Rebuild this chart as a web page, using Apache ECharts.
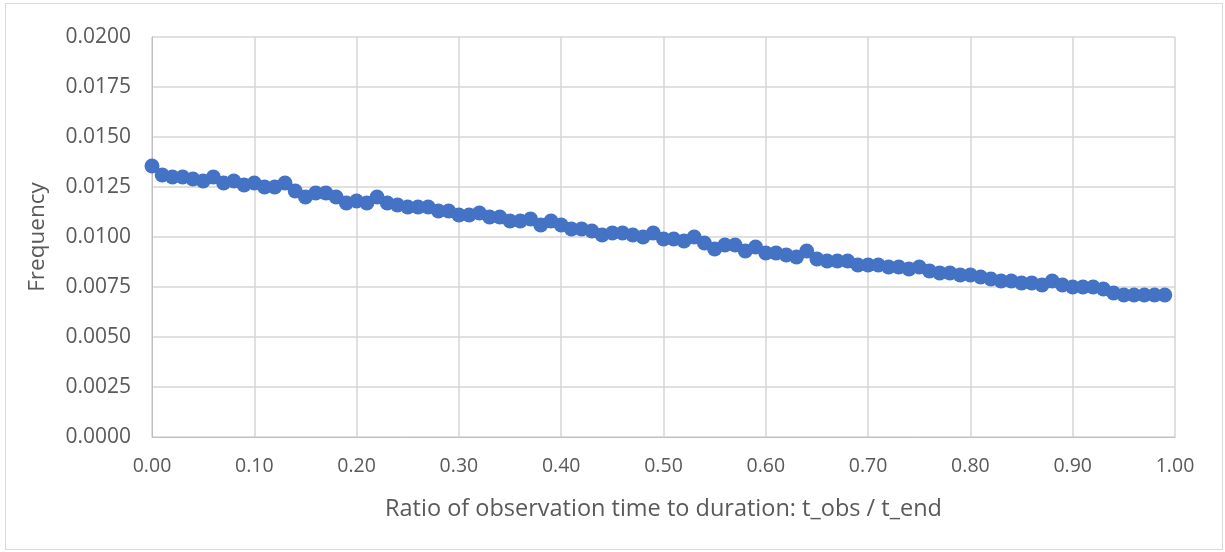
<!DOCTYPE html>
<html>
<head>
<meta charset="utf-8">
<script src="https://cdn.jsdelivr.net/npm/echarts@6/dist/echarts.min.js"></script>
<style>
  html, body { margin: 0; padding: 0; background: #fff; }
  #frame { position: absolute; left: 5px; top: 3px; width: 1218px; height: 547px; box-sizing: border-box; border: 1px solid #d9d9d9; }
  #chart { position: absolute; left: 0; top: 0; width: 1225px; height: 552px; }
</style>
</head>
<body>
<div id="frame"></div>
<div id="chart"></div>
<script>
// Observation ratio t_obs / t_end
const ratios = [
  0.00, 0.01, 0.02, 0.03, 0.04, 0.05, 0.06, 0.07, 0.08, 0.09,
  0.10, 0.11, 0.12, 0.13, 0.14, 0.15, 0.16, 0.17, 0.18, 0.19,
  0.20, 0.21, 0.22, 0.23, 0.24, 0.25, 0.26, 0.27, 0.28, 0.29,
  0.30, 0.31, 0.32, 0.33, 0.34, 0.35, 0.36, 0.37, 0.38, 0.39,
  0.40, 0.41, 0.42, 0.43, 0.44, 0.45, 0.46, 0.47, 0.48, 0.49,
  0.50, 0.51, 0.52, 0.53, 0.54, 0.55, 0.56, 0.57, 0.58, 0.59,
  0.60, 0.61, 0.62, 0.63, 0.64, 0.65, 0.66, 0.67, 0.68, 0.69,
  0.70, 0.71, 0.72, 0.73, 0.74, 0.75, 0.76, 0.77, 0.78, 0.79,
  0.80, 0.81, 0.82, 0.83, 0.84, 0.85, 0.86, 0.87, 0.88, 0.89,
  0.90, 0.91, 0.92, 0.93, 0.94, 0.95, 0.96, 0.97, 0.98, 0.99
];

// Frequency at each ratio
const frequency = [
  0.01355, 0.0131, 0.0130, 0.0130, 0.0129, 0.0128, 0.0130, 0.0127, 0.0128, 0.0126,
  0.0127, 0.0125, 0.0125, 0.0127, 0.0123, 0.0120, 0.0122, 0.0122, 0.0120, 0.0117,
  0.0118, 0.0117, 0.0120, 0.0117, 0.0116, 0.0115, 0.0115, 0.0115, 0.0113, 0.0113,
  0.0111, 0.0111, 0.0112, 0.0110, 0.0110, 0.0108, 0.0108, 0.0109, 0.0106, 0.0108,
  0.0106, 0.0104, 0.0104, 0.0103, 0.0101, 0.0102, 0.0102, 0.0101, 0.0100, 0.0102,
  0.0099, 0.0099, 0.0098, 0.0100, 0.0097, 0.0094, 0.0096, 0.0096, 0.0093, 0.0095,
  0.0092, 0.0092, 0.0091, 0.0090, 0.0093, 0.0089, 0.0088, 0.0088, 0.0088, 0.0086,
  0.0086, 0.0086, 0.0085, 0.0085, 0.0084, 0.0085, 0.0083, 0.0082, 0.0082, 0.0081,
  0.0081, 0.0080, 0.0079, 0.0078, 0.0078, 0.0077, 0.0077, 0.0076, 0.0078, 0.0076,
  0.0075, 0.0075, 0.0075, 0.0074, 0.0072, 0.0071, 0.0071, 0.0071, 0.0071, 0.0071
];

const xAxisTitle = 'Ratio of observation time to duration: t_obs / t_end';
const yAxisTitle = 'Frequency';

const textColor = '#595959';
const gridColor = '#d6d6d6';
const font = '"Open Sans", "Noto Sans", sans-serif';

const chart = echarts.init(document.getElementById('chart'), null, { renderer: 'canvas' });

chart.setOption({
  animation: false,
  backgroundColor: 'transparent',
  grid: { left: 152, right: 50, top: 37, bottom: 115, containLabel: false },
  xAxis: {
    type: 'value',
    min: 0, max: 1, interval: 0.1,
    name: xAxisTitle,
    nameLocation: 'middle',
    nameGap: 60,
    nameTextStyle: { color: textColor, fontSize: 23.5, fontFamily: font },
    axisLine: { show: true, lineStyle: { color: '#bfbfbf', width: 1 } },
    axisTick: { show: false },
    axisLabel: {
      color: textColor, fontSize: 19.5, fontFamily: font, margin: 19,
      formatter: v => v.toFixed(2)
    },
    splitLine: { show: true, lineStyle: { color: gridColor, width: 1.5 } }
  },
  yAxis: {
    type: 'value',
    min: 0, max: 0.02, interval: 0.0025,
    name: yAxisTitle,
    nameLocation: 'middle',
    nameGap: 103,
    nameTextStyle: { color: textColor, fontSize: 22.5, fontFamily: font },
    axisLine: { show: true, lineStyle: { color: '#bfbfbf', width: 1 } },
    axisTick: { show: false },
    axisLabel: {
      color: textColor, fontSize: 21, fontFamily: font, margin: 21,
      formatter: v => v.toFixed(4)
    },
    splitLine: { show: true, lineStyle: { color: gridColor, width: 1.5 } }
  },
  series: [{
    type: 'line',
    data: ratios.map((r, i) => [r, frequency[i]]),
    symbol: 'circle',
    symbolSize: 15,
    itemStyle: { color: '#4472c4' },
    lineStyle: { color: '#4472c4', width: 3.5 },
    clip: false
  }]
});
</script>
</body>
</html>
